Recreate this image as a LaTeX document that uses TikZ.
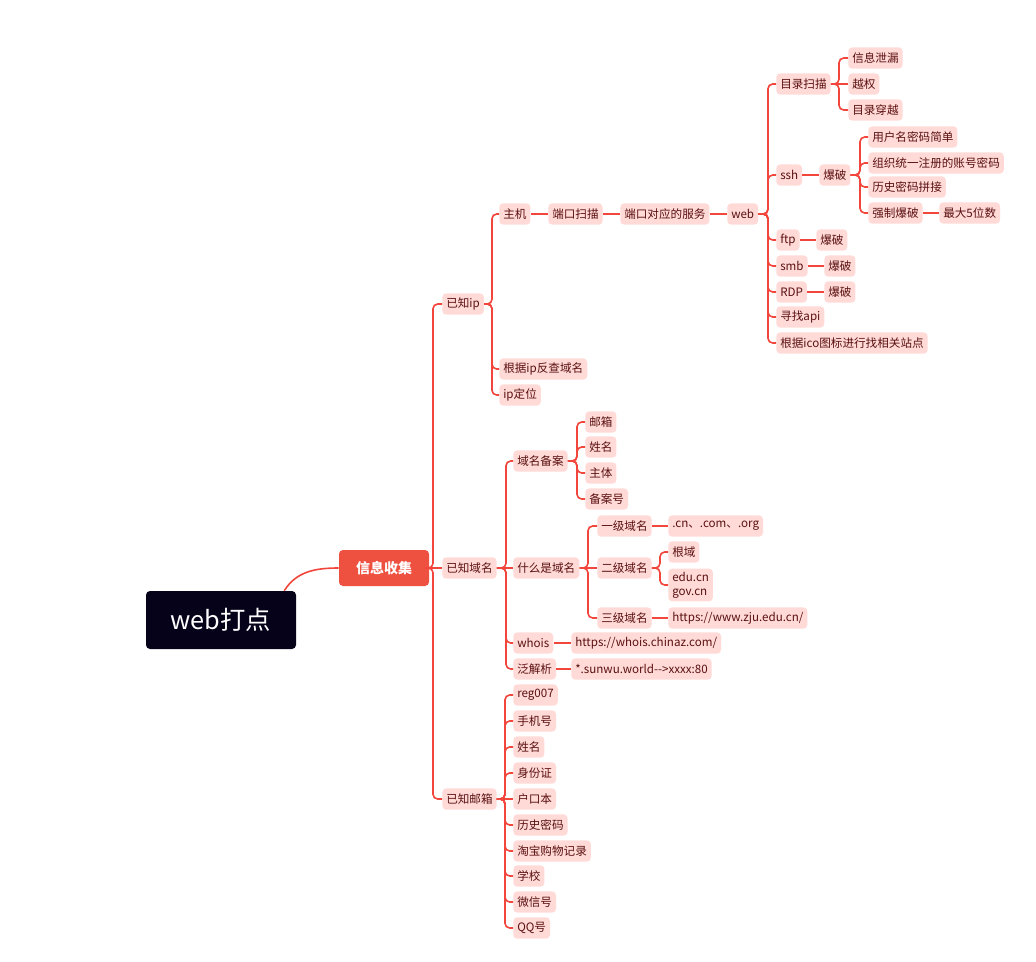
\documentclass[tikz,border=0pt]{standalone}
\usepackage{fontspec}
\setmainfont{Noto Sans CJK SC}
\usetikzlibrary{positioning}
\definecolor{linered}{HTML}{F2463C}
\definecolor{leaffill}{HTML}{FFDAD7}
\definecolor{leaftext}{HTML}{5A1010}
\definecolor{rootfill}{HTML}{05021A}
\definecolor{mainfill}{HTML}{EF5140}

\begin{document}
\begin{tikzpicture}[x=0.75pt, y=-0.75pt,
  leaf/.style={fill=leaffill, text=leaftext, rounded corners=3pt, inner xsep=3pt, inner ysep=0pt,
    minimum height=16pt, anchor=west, font=\fontsize{8.7}{10.5}\selectfont},
  rootbox/.style={fill=rootfill, text=white, rounded corners=3pt, minimum width=112.5pt,
    minimum height=43.5pt, font=\fontsize{19}{22}\selectfont},
  mainbox/.style={fill=mainfill, text=white, rounded corners=3pt, minimum width=67.5pt,
    minimum height=27pt, font=\fontsize{10.5}{12}\selectfont\bfseries},
  l/.style={linered, line width=1.2pt, rounded corners=3.5pt}
]
  \useasboundingbox (0,0) rectangle (1036,961);

  % centre
  \node[rootbox] (root) at (221,620) {web打点};
  \node[mainbox] (info) at (384,568) {信息收集};
  \draw[l, rounded corners=0pt] ([xshift=-9pt]root.north east) to[out=58,in=180] (info.west);

  % trunks
  \coordinate (tMain) at (433,0);
  \coordinate (tIp) at (492,0);
  \coordinate (tWeb) at (768,0);
  \coordinate (tDir) at (839,0);
  \coordinate (tBf) at (860,0);
  \coordinate (tDom) at (506,0);
  \coordinate (tIcp) at (577,0);
  \coordinate (tWhat) at (588,0);
  \coordinate (tLv2) at (660,0);
  \coordinate (tMail) at (505,0);

  % level 1
  \node[leaf] (ip) at (442,304) {已知ip};
  \node[leaf] (dom) at (442,568) {已知域名};
  \node[leaf] (mail) at (442,799) {已知邮箱};
  \draw[l] (info.east) -- (dom.west);
  \foreach \c in {ip,mail}
    \draw[l] (info.east) -- (info.east -| tMain) |- (\c.west);

  % known ip
  \node[leaf] (host) at (499,214) {主机};
  \node[leaf] (port) at (548,214) {端口扫描};
  \node[leaf] (svc) at (620,214) {端口对应的服务};
  \node[leaf] (web) at (727,214) {web};
  \node[leaf] (rev) at (499,369) {根据ip反查域名};
  \node[leaf] (loc) at (499,395) {ip定位};
  \foreach \c in {host,rev,loc}
    \draw[l] (ip.east) -- (ip.east -| tIp) |- (\c.west);
  \draw[l] (host) -- (port); \draw[l] (port) -- (svc); \draw[l] (svc) -- (web);

  % web services
  \node[leaf] (dirscan) at (776,84) {目录扫描};
  \node[leaf] (ssh) at (776,175) {ssh};
  \node[leaf] (ftp) at (776,240) {ftp};
  \node[leaf] (smb) at (776,266) {smb};
  \node[leaf] (rdp) at (776,292) {RDP};
  \node[leaf] (api) at (776,317) {寻找api};
  \node[leaf] (ico) at (776,343) {根据ico图标进行找相关站点};
  \foreach \c in {dirscan,ssh,ftp,smb,rdp,api,ico}
    \draw[l] (web.east) -- (web.east -| tWeb) |- (\c.west);

  \node[leaf] (leak) at (848,58) {信息泄漏};
  \node[leaf] (priv) at (848,84) {越权};
  \node[leaf] (trav) at (848,110) {目录穿越};
  \draw[l] (dirscan) -- (priv);
  \foreach \c in {leak,trav}
    \draw[l] (dirscan.east) -- (dirscan.east -| tDir) |- (\c.west);

  \node[leaf] (sshbf) at (819,175) {爆破};
  \draw[l] (ssh) -- (sshbf);
  \node[leaf] (weak) at (868,137) {用户名密码简单};
  \node[leaf] (orgpw) at (868,163) {组织统一注册的账号密码};
  \node[leaf] (histpw) at (868,187) {历史密码拼接};
  \node[leaf] (brute) at (868,213) {强制爆破};
  \node[leaf] (max5) at (939,213) {最大5位数};
  \foreach \c in {weak,orgpw,histpw,brute}
    \draw[l] (sshbf.east) -- (sshbf.east -| tBf) |- (\c.west);
  \draw[l] (brute) -- (max5);

  \node[leaf] (ftpbf) at (816,240) {爆破};
  \node[leaf] (smbbf) at (824,266) {爆破};
  \node[leaf] (rdpbf) at (824,292) {爆破};
  \draw[l] (ftp) -- (ftpbf); \draw[l] (smb) -- (smbbf); \draw[l] (rdp) -- (rdpbf);

  % known domain
  \node[leaf] (icp) at (513,461) {域名备案};
  \node[leaf] (what) at (513,568) {什么是域名};
  \node[leaf] (whois) at (513,643) {whois};
  \node[leaf] (wild) at (513,669) {泛解析};
  \draw[l] (dom) -- (what);
  \foreach \c in {icp,whois,wild}
    \draw[l] (dom.east) -- (dom.east -| tDom) |- (\c.west);

  \node[leaf] (icpmail) at (585,422) {邮箱};
  \node[leaf] (icpname) at (585,447) {姓名};
  \node[leaf] (icpbody) at (585,473) {主体};
  \node[leaf] (icpno) at (585,499) {备案号};
  \foreach \c in {icpmail,icpname,icpbody,icpno}
    \draw[l] (icp.east) -- (icp.east -| tIcp) |- (\c.west);

  \node[leaf] (lv1) at (597,526) {一级域名};
  \node[leaf] (lv2) at (597,568) {二级域名};
  \node[leaf] (lv3) at (597,618) {三级域名};
  \draw[l] (what) -- (lv2);
  \foreach \c in {lv1,lv3}
    \draw[l] (what.east) -- (what.east -| tWhat) |- (\c.west);
  \node[leaf] (lv1ex) at (668,526) {.cn、.com、.org};
  \node[leaf] (rootdom) at (668,552) {根域};
  \node[leaf, align=left, inner ysep=2.5pt] (edugov) at (668,585) {edu.cn\\gov.cn};
  \node[leaf] (lv3ex) at (668,618) {https://www.zju.edu.cn/};
  \draw[l] (lv1) -- (lv1ex); \draw[l] (lv3) -- (lv3ex);
  \foreach \c in {rootdom,edugov}
    \draw[l] (lv2.east) -- (lv2.east -| tLv2) |- (\c.west);

  \node[leaf] (whoisurl) at (571,643) {https://whois.chinaz.com/};
  \node[leaf] (wildex) at (571,669) {*.sunwu.world-{}->xxxx:80};
  \draw[l] (whois) -- (whoisurl); \draw[l] (wild) -- (wildex);

  % known mailbox
  \node[leaf] (m1) at (513,695) {reg007};
  \node[leaf] (m2) at (513,721) {手机号};
  \node[leaf] (m3) at (513,747) {姓名};
  \node[leaf] (m4) at (513,773) {身份证};
  \node[leaf] (m5) at (513,799) {户口本};
  \node[leaf] (m6) at (513,825) {历史密码};
  \node[leaf] (m7) at (513,851) {淘宝购物记录};
  \node[leaf] (m8) at (513,876) {学校};
  \node[leaf] (m9) at (513,902) {微信号};
  \node[leaf] (m10) at (513,928) {QQ号};
  \draw[l] (mail) -- (m5);
  \foreach \c in {m1,m2,m3,m4,m6,m7,m8,m9,m10}
    \draw[l] (mail.east) -- (mail.east -| tMail) |- (\c.west);
\end{tikzpicture}
\end{document}
